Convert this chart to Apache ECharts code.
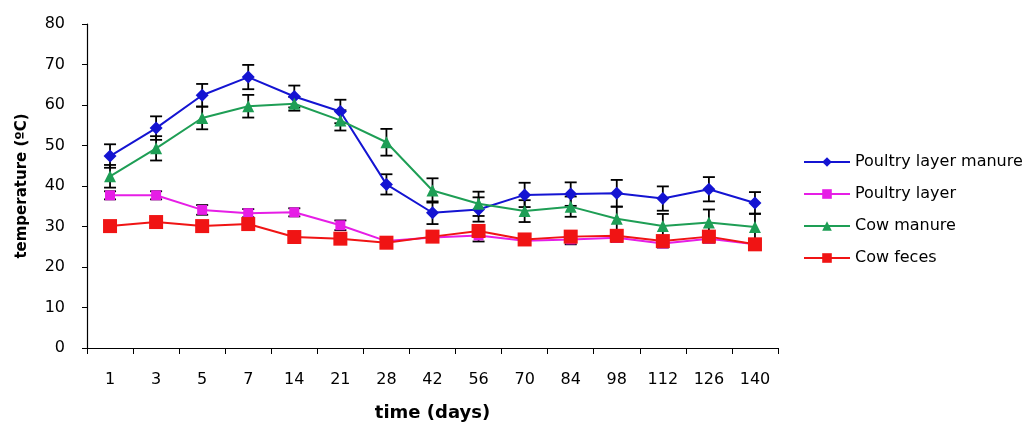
<!DOCTYPE html>
<html><head><meta charset="utf-8">
<script src="https://cdn.jsdelivr.net/npm/echarts@6/dist/echarts.min.js"></script>
<style>html,body{margin:0;padding:0;background:#fff}#c{width:1024px;height:427px}</style>
</head><body><div id="c"></div>
<script>
const days = ['1','3','5','7','14','21','28','42','56','70','84','98','112','126','140'];
const poultryManure = [47.4, 54.3, 62.4, 66.9, 62.1, 58.4, 40.4, 33.4, 34.2, 37.8, 38.0, 38.2, 36.9, 39.2, 35.8];
const poultryManureErr = [2.9, 2.9, 2.8, 3.0, 2.7, 2.9, 2.5, 2.8, 3.0, 3.0, 2.9, 3.3, 3.0, 3.0, 2.7];
const poultryLayer = [37.7, 37.7, 34.1, 33.3, 33.5, 30.3, 26.4, 27.3, 27.8, 26.5, 26.8, 27.2, 25.8, 27.0, 25.6];
const poultryLayerErr = [1.0, 1.0, 1.2, 1.0, 1.0, 1.2, 1.0, 1.0, 1.5, 1.0, 1.2, 1.0, 1.0, 1.0, 1.2];
const cowManure = [42.4, 49.3, 56.8, 59.7, 60.3, 56.2, 50.8, 38.9, 35.6, 33.8, 34.9, 31.9, 30.1, 31.0, 29.9];
const cowManureErr = [2.8, 3.0, 2.8, 2.8, 1.7, 2.5, 3.3, 3.0, 3.0, 2.7, 2.5, 3.0, 3.0, 3.2, 3.3];
const cowFeces = [30.1, 31.1, 30.1, 30.6, 27.4, 27.0, 26.0, 27.5, 28.9, 26.8, 27.5, 27.7, 26.4, 27.5, 25.6];
const cowFecesErr = [0.8, 0.8, 0.8, 0.8, 0.8, 0.8, 0.8, 1.0, 1.5, 1.0, 1.0, 1.0, 1.0, 1.0, 1.0];
const yTicks = {min: 0, max: 80, interval: 10};

const chart = echarts.init(document.getElementById('c'));
function errData(vals, errs){ return vals.map((v,i)=>[i, v, errs[i]]); }
function errSeries(vals, errs){
  return {
    type:'custom', z: 1, silent:true,
    data: errData(vals, errs),
    encode:{x:0, y:1},
    renderItem: function(params, api){
      const i = api.value(0), v = api.value(1), e = api.value(2);
      const hi = api.coord([i, v+e]), lo = api.coord([i, v-e]);
      const st = {stroke:'#000', lineWidth:1.8};
      const w = 6;
      return {type:'group', children:[
        {type:'line', shape:{x1:hi[0], y1:hi[1], x2:lo[0], y2:lo[1]}, style:st},
        {type:'line', shape:{x1:hi[0]-w, y1:hi[1], x2:hi[0]+w, y2:hi[1]}, style:st},
        {type:'line', shape:{x1:lo[0]-w, y1:lo[1], x2:lo[0]+w, y2:lo[1]}, style:st}
      ]};
    }
  };
}
function lineSeries(name, vals, color, symbol, size){
  return {name, type:'line', data: vals, z: 3, symbol, symbolSize: size,
    lineStyle:{color, width:2}, itemStyle:{color}, animation:false};
}
const font = 'DejaVu Sans, sans-serif';
chart.setOption({
  animation:false,
  textStyle:{fontFamily:font},
  grid:{left:87, right:246, top:24, bottom:78},
  legend:{
    orient:'vertical', left:798, top:149, itemGap:16, itemWidth:46, itemHeight:12,
    textStyle:{fontFamily:font, fontSize:16, color:'#000'},
    data:['Poultry layer manure','Poultry layer','Cow manure','Cow feces']
  },
  xAxis:{
    type:'category', data: days, boundaryGap:true,
    name:'time (days)', nameLocation:'middle', nameGap:56,
    nameTextStyle:{fontFamily:font, fontSize:18, fontWeight:'bold', color:'#000'},
    axisLine:{lineStyle:{color:'#000', width:1.2}},
    axisTick:{show:true, length:6, lineStyle:{color:'#000'}},
    axisLabel:{fontFamily:font, fontSize:16, color:'#000', margin:24}
  },
  yAxis:{
    type:'value', min:yTicks.min, max:yTicks.max, interval:yTicks.interval,
    name:'temperature (ºC)', nameLocation:'middle', nameGap:57,
    nameTextStyle:{fontFamily:font, fontSize:15, fontWeight:'bold', color:'#000'},
    axisLine:{show:true, lineStyle:{color:'#000', width:1.2}},
    axisTick:{show:true, length:5, lineStyle:{color:'#000'}},
    splitLine:{show:false},
    axisLabel:{fontFamily:font, fontSize:16, color:'#000', margin:22}
  },
  series:[
    errSeries(poultryManure, poultryManureErr),
    errSeries(poultryLayer, poultryLayerErr),
    errSeries(cowManure, cowManureErr),
    errSeries(cowFeces, cowFecesErr),
    lineSeries('Poultry layer manure', poultryManure, '#1414d2', 'diamond', 13),
    lineSeries('Poultry layer', poultryLayer, '#e61ee6', 'rect', 10),
    lineSeries('Cow manure', cowManure, '#1e9e55', 'triangle', 12),
    lineSeries('Cow feces', cowFeces, '#f01414', 'rect', 14)
  ]
});
</script></body></html>
